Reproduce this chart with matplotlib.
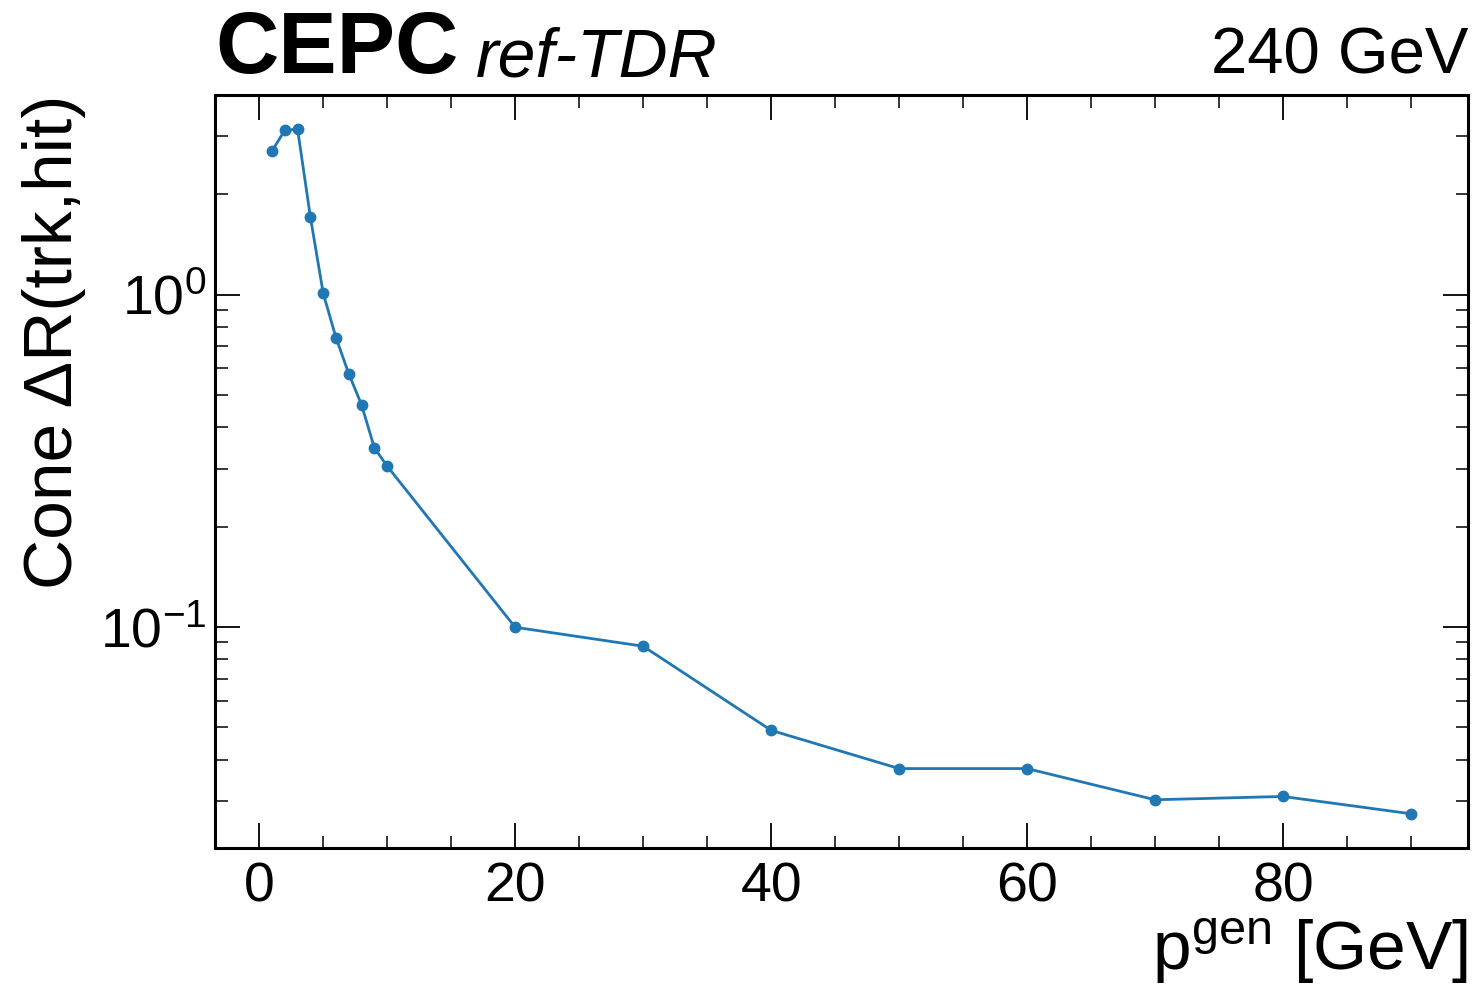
import numpy as np
import matplotlib
matplotlib.use('Agg')
import matplotlib.pyplot as plt
from matplotlib.ticker import MultipleLocator, LogLocator

font = {'family': 'Liberation Sans',
        'weight': 'normal',
        'size': 40}
matplotlib.rc('font', **font)
plt.rcParams['mathtext.fontset'] = 'custom'
plt.rcParams['mathtext.rm'] = 'Liberation Sans'
plt.rcParams['mathtext.it'] = 'Liberation Sans:italic'
plt.rcParams['mathtext.bf'] = 'Liberation Sans:bold'

# generated momentum [GeV] and cone size
p_gen = [1, 2, 3, 4, 5, 6, 7, 8, 9, 10, 20, 30, 40, 50, 60, 70, 80, 90]
cone_dr = [2.70, 3.12, 3.14, 1.71, 1.01, 0.742, 0.578, 0.466, 0.346, 0.305,
           0.100, 0.0877, 0.049, 0.0376, 0.0376, 0.0303, 0.031, 0.0275]

x_label = r'p$^{\mathrm{gen}}$ [GeV]'
y_label = 'Cone ΔR(trk,hit)'
exp_label = 'CEPC'
sub_label = 'ref-TDR'
energy_label = '240 GeV'

fig = plt.figure(figsize=(14.78, 9.91), dpi=100)
ax = fig.add_axes([0.1455, 0.1443, 0.8477, 0.7598])

ax.plot(p_gen, cone_dr, marker='o', color='#1f77b4', lw=2.0, ms=7.5)
ax.set_yscale('log')

ax.xaxis.set_major_locator(MultipleLocator(20))
ax.xaxis.set_minor_locator(MultipleLocator(5))
ax.yaxis.set_minor_locator(LogLocator(base=10, subs=np.arange(2, 10)))

for side in ax.spines.values():
    side.set_linewidth(2.2)
ax.tick_params(which='both', direction='in', top=True, right=True)
ax.tick_params(which='major', length=18, width=1.3, labelsize=40)
ax.tick_params(axis='x', which='major', pad=10)
ax.tick_params(axis='y', which='major', pad=6)
ax.tick_params(which='minor', length=9, width=1.1)

ax.set_xlabel(x_label, loc='right', fontsize=50, labelpad=2)
ax.set_ylabel(y_label, loc='top', fontsize=50, labelpad=10)

t = ax.text(0.0, 1.006, exp_label, transform=ax.transAxes, fontsize=63,
            fontweight='bold', ha='left', va='bottom')
ax.annotate(sub_label, xy=(1, 0), xycoords=t, xytext=(13, 0),
            textcoords='offset points', fontsize=49, style='italic',
            ha='left', va='bottom')
ax.text(1.0, 1.012, energy_label, transform=ax.transAxes, fontsize=47,
        ha='right', va='bottom')

fig.savefig('out.png', dpi=100)
